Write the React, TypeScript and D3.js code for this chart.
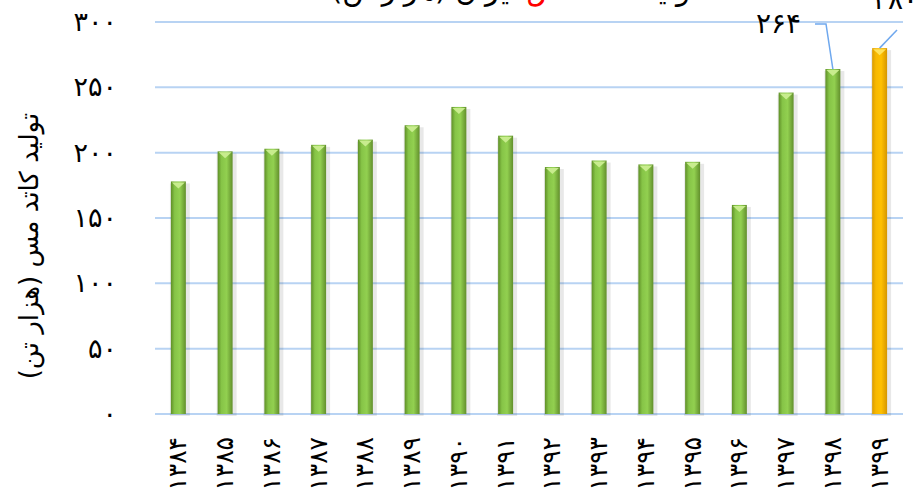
import { scaleBand, scaleLinear } from 'd3'

const width = 918
const height = 498

const years = [
  '۱۳۸۴', '۱۳۸۵', '۱۳۸۶', '۱۳۸۷', '۱۳۸۸', '۱۳۸۹', '۱۳۹۰', '۱۳۹۱',
  '۱۳۹۲', '۱۳۹۳', '۱۳۹۴', '۱۳۹۵', '۱۳۹۶', '۱۳۹۷', '۱۳۹۸', '۱۳۹۹',
]
const production = [178, 201, 203, 206, 210, 221, 235, 213, 189, 194, 191, 193, 160, 246, 264, 280]
const yTicks = [0, 50, 100, 150, 200, 250, 300]
const labelled = ['۱۳۹۸', '۱۳۹۹']
const highlight = '۱۳۹۹'

const yTitle = 'تولید کاتد مس (هزار تن)'

const fa = (n: number) => String(n).replace(/\d/g, (d) => '۰۱۲۳۴۵۶۷۸۹'[+d])

const faFont = '"DejaVu Sans", sans-serif'

const xScale = scaleBand<string>()
  .domain(years)
  .range([155, 903])
  .paddingInner(0.68)
  .paddingOuter(0.34)

const yScale = scaleLinear().domain([0, 300]).range([414, 22])

const App = () => {
  const bw = xScale.bandwidth()
  const y0 = yScale(0)

  return (
    <svg
      width={width}
      height={height}
      style={{ position: 'absolute', left: 0, top: 0, background: '#fff' }}
    >
      <defs>
        <linearGradient id="green" x1="0" x2="1" y1="0" y2="0">
          <stop offset="0" stopColor="#5f8f27" />
          <stop offset="0.25" stopColor="#86c447" />
          <stop offset="0.6" stopColor="#92d050" />
          <stop offset="1" stopColor="#628f2c" />
        </linearGradient>
        <linearGradient id="orange" x1="0" x2="1" y1="0" y2="0">
          <stop offset="0" stopColor="#d99a00" />
          <stop offset="0.25" stopColor="#f7b800" />
          <stop offset="0.6" stopColor="#ffc000" />
          <stop offset="1" stopColor="#d59600" />
        </linearGradient>
      </defs>

      {/* title, mostly cut off at the top */}
      <text
        x={515}
        y={0}
        fontSize={29}
        fontFamily={faFont}
        textAnchor="middle"
        direction="rtl"
        fill="#000"
      >
        تولید کاتد <tspan fill="#ff0000">مس</tspan> ایران (هزار تن)
      </text>

      {yTicks.map((t) => (
        <g key={t}>
          <line
            x1={155}
            x2={903}
            y1={yScale(t)}
            y2={yScale(t)}
            stroke="#b8d3f3"
            strokeWidth={2}
          />
          <text
            x={117}
            y={yScale(t) + 9}
            fontSize={27}
            fontFamily={faFont}
            textAnchor="end"
          >
            {fa(t)}
          </text>
        </g>
      ))}

      <text
        transform={`translate(38,246) rotate(-90)`}
        fontSize={26}
        fontFamily={faFont}
        textAnchor="middle"
        direction="rtl"
      >
        {yTitle}
      </text>

      {years.map((yr, i) => {
        const x = xScale(yr) ?? 0
        const top = yScale(production[i])
        const isHi = yr === highlight
        return (
          <g key={yr}>
            <rect
              x={x - 1}
              y={top + 2}
              width={bw + 5}
              height={y0 - top}
              fill="#000"
              opacity={0.09}
            />
            <rect
              x={x}
              y={top}
              width={bw}
              height={y0 - top}
              fill={isHi ? 'url(#orange)' : 'url(#green)'}
            />
            <polygon
              points={`${x + 1},${top + 1} ${x + bw - 1},${top + 1} ${x + bw / 2},${top + 7}`}
              fill={isHi ? '#ffe35a' : '#c8ec8e'}
            />
            <text
              transform={`translate(${x + bw / 2 + 8},437) rotate(-90)`}
              fontSize={25}
              fontFamily={faFont}
              textAnchor="end"
            >
              {yr}
            </text>
          </g>
        )
      })}

      {/* data labels with leader lines */}
      {labelled.map((yr) => {
        const i = years.indexOf(yr)
        const cx = (xScale(yr) ?? 0) + bw / 2
        const top = yScale(production[i])
        if (yr === '۱۳۹۸') {
          return (
            <g key={yr}>
              <polyline
                points={`815,24 826,24 ${cx},${top}`}
                fill="none"
                stroke="#6fa8ee"
                strokeWidth={1.5}
              />
              <text x={801} y={33} fontSize={28} fontFamily={faFont} textAnchor="end">
                {fa(production[i])}
              </text>
            </g>
          )
        }
        return (
          <g key={yr}>
            <line x1={897} y1={30} x2={cx} y2={top} stroke="#6fa8ee" strokeWidth={1.5} />
            <text x={873} y={9} fontSize={28} fontFamily={faFont}>
              {fa(production[i])}
            </text>
          </g>
        )
      })}
    </svg>
  )
}

export default App
